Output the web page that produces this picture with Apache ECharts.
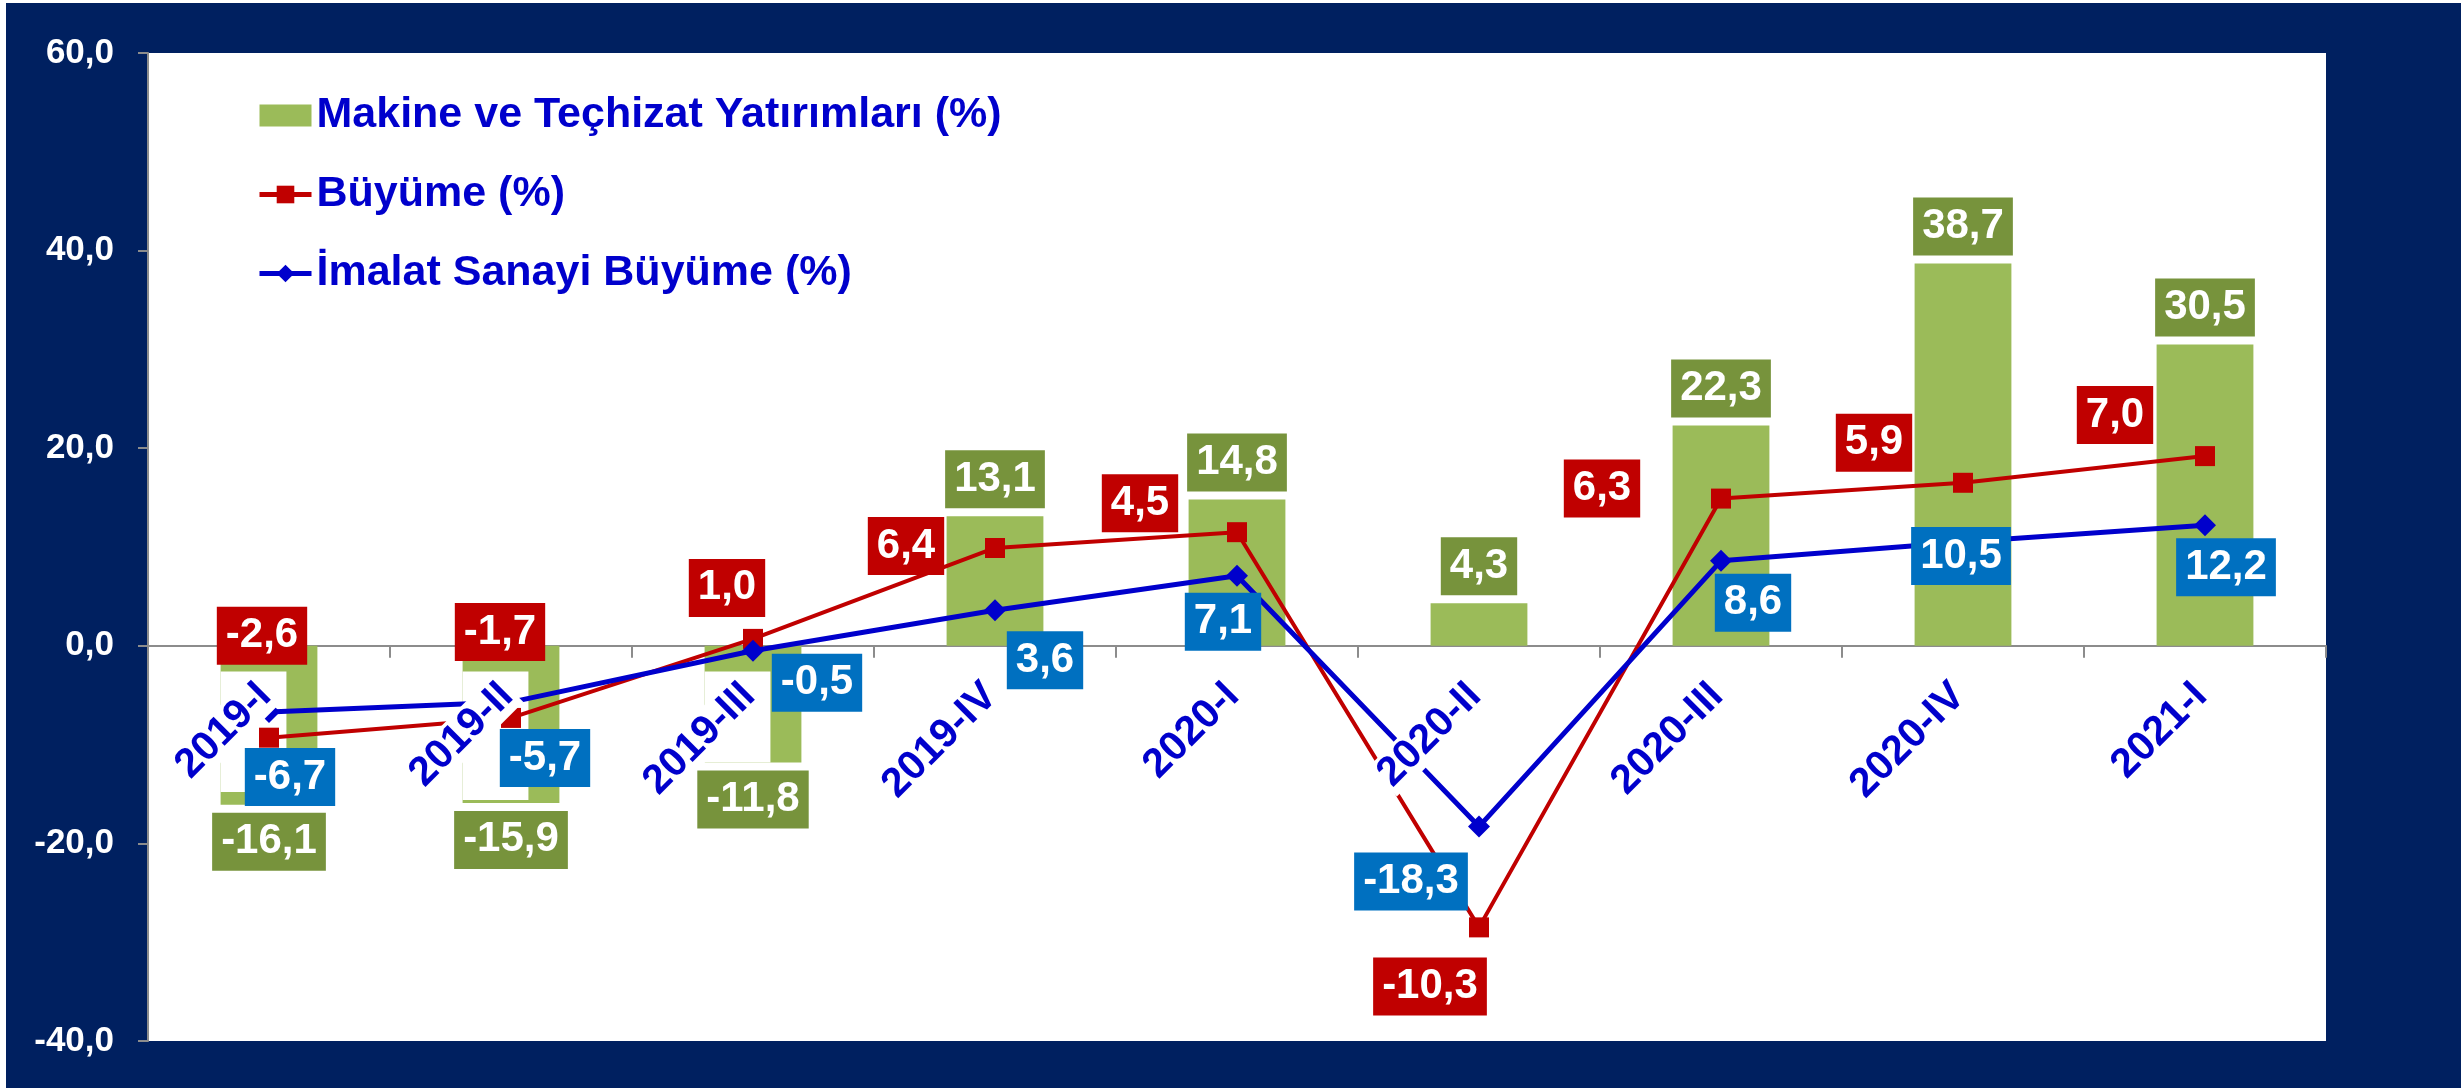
<!DOCTYPE html>
<html>
<head>
<meta charset="utf-8">
<script src="https://cdn.jsdelivr.net/npm/echarts@6/dist/echarts.min.js"></script>
<style>
  html, body { margin: 0; padding: 0; background: #ffffff; }
  #chart { position: absolute; left: 6px; top: 3px; width: 2455px; height: 1085px; }
</style>
</head>
<body>
<div id="chart"></div>
<script>
// quarters
const categories = ["2019-I", "2019-II", "2019-III", "2019-IV", "2020-I", "2020-II", "2020-III", "2020-IV", "2021-I"];
// Makine ve Techizat Yatirimlari (%)
const makineValues = [-16.1, -15.9, -11.8, 13.1, 14.8, 4.3, 22.3, 38.7, 30.5];
// Buyume: plotted points and the numbers written on the labels (they differ in the original)
const buyumeLine = [-9.3, -7.3, 0.7, 9.9, 11.5, -28.5, 14.9, 16.5, 19.2];
const buyumeLabels = [-2.6, -1.7, 1.0, 6.4, 4.5, -10.3, 6.3, 5.9, 7.0];
// Imalat Sanayi Buyume (%)
const imalatValues = [-6.7, -5.7, -0.5, 3.6, 7.1, -18.3, 8.6, 10.5, 12.2];
// white patches over the negative bars: [category, from, to]
const maskData = [[0, -2.6, -14.8], [1, -2.6, -15.6], [2, -2.6, -11.8]];
const yMin = -40, yMax = 60, yStep = 20;

const seriesNames = ["Makine ve Teçhizat Yatırımları (%)", "Büyüme (%)", "İmalat Sanayi Büyüme (%)"];

// label placement (px, relative to the point)
const buyumeOffsets = [[-7, -102], [-11, -86], [-26, -51], [-89, -2], [-97, -29], [-49, 59], [-119, -10], [-89, -40], [-90, -41]];
const imalatOffsets = [[21, 65], [34, 56], [64, 32], [50, 50], [-14, 46], [-68, 55], [32, 42], [-2, 14], [21, 42]];

const FONT = "'Liberation Sans', Arial, sans-serif";
const fmt = (v) => v.toFixed(1).replace(".", ",");

const boxLabel = {
  show: true,
  color: "#ffffff",
  fontFamily: FONT,
  fontWeight: "bold",
  fontSize: 42,
  lineHeight: 44,
  padding: [7, 9],
};

const chart = echarts.init(document.getElementById("chart"));

const option = {
  animation: false,
  backgroundColor: "#002060",
  textStyle: { fontFamily: FONT },
  grid: {
    left: 142,
    right: 135,
    top: 50,
    bottom: 47,
    containLabel: false,
    outerBoundsMode: "none",
    show: true,
    backgroundColor: "#ffffff",
    borderWidth: 0,
  },
  legend: {
    orient: "vertical",
    left: 246,
    top: 86,
    itemWidth: 52,
    itemHeight: 22,
    itemGap: 36,
    lineStyle: { width: 5 },
    textStyle: {
      color: "#0000CC",
      fontFamily: FONT,
      fontWeight: "bold",
      fontSize: 43,
      lineHeight: 42,
    },
    data: [
      { name: seriesNames[0], icon: "rect" },
      { name: seriesNames[1] },
      { name: seriesNames[2] },
    ],
  },
  xAxis: {
    type: "category",
    data: categories,
    axisLine: { onZero: true, lineStyle: { color: "#8c8c8c", width: 2 } },
    axisTick: { show: true, length: 12, lineStyle: { color: "#8c8c8c", width: 2 } },
    axisLabel: { show: false },
  },
  yAxis: {
    type: "value",
    min: yMin,
    max: yMax,
    interval: yStep,
    axisLine: { show: true, lineStyle: { color: "#8c8c8c", width: 2 } },
    axisTick: { show: true, length: 10, lineStyle: { color: "#8c8c8c", width: 2 } },
    splitLine: { show: false },
    axisLabel: {
      margin: 34,
      color: "#ffffff",
      fontFamily: FONT,
      fontWeight: "bold",
      fontSize: 35,
      formatter: (v) => fmt(v),
    },
  },
  series: [
    {
      name: seriesNames[0],
      type: "bar",
      z: 2,
      barWidth: "40%",
      itemStyle: { color: "#9BBB59" },
      data: makineValues.map((v) => ({
        value: v,
        label: { position: v < 0 ? "bottom" : "top" },
      })),
      label: Object.assign({}, boxLabel, {
        backgroundColor: "#77933C",
        distance: 8,
        formatter: (p) => fmt(p.value),
      }),
    },
    {
      name: "mask",
      type: "custom",
      z: 3,
      silent: true,
      clip: false,
      dimensions: ["cat", "from", "to"],
      encode: { x: 0, y: [1, 2] },
      data: maskData,
      renderItem: (params, api) => {
        const cat = api.value(0);
        const top = api.coord([cat, api.value(1)]);
        const bot = api.coord([cat, api.value(2)]);
        const bw = api.size([1, 0])[0] * 0.4;
        return {
          type: "rect",
          shape: { x: top[0] - bw / 2, y: top[1], width: bw * 0.68, height: bot[1] - top[1] },
          style: { fill: "#ffffff" },
        };
      },
    },
    {
      name: seriesNames[1],
      type: "line",
      z: 4,
      symbol: "rect",
      symbolSize: 20,
      lineStyle: { color: "#C00000", width: 4 },
      itemStyle: { color: "#C00000" },
      label: Object.assign({}, boxLabel, { backgroundColor: "#C00000", position: "inside" }),
      data: buyumeLine.map((v, i) => ({
        value: v,
        label: { offset: buyumeOffsets[i], formatter: fmt(buyumeLabels[i]) },
      })),
    },
    {
      name: seriesNames[2],
      type: "line",
      z: 5,
      symbol: "diamond",
      symbolSize: 22,
      lineStyle: { color: "#0000CC", width: 5 },
      itemStyle: { color: "#0000CC" },
      label: Object.assign({}, boxLabel, { backgroundColor: "#0070C0", position: "inside" }),
      data: imalatValues.map((v, i) => ({
        value: v,
        label: { offset: imalatOffsets[i], formatter: fmt(v) },
      })),
    },
    {
      // category names written at the zero line (offset is in the rotated frame)
      name: "quarters",
      type: "scatter",
      z: 10,
      silent: true,
      symbolSize: 0,
      itemStyle: { opacity: 1 },
      data: categories.map(() => 0),
      label: {
        show: true,
        position: "inside",
        offset: [-31, 28],
        rotate: 45,
        align: "right",
        verticalAlign: "middle",
        color: "#0000CC",
        opacity: 1,
        fontFamily: FONT,
        fontWeight: "bold",
        fontSize: 41,
        backgroundColor: "#ffffff",
        padding: [0, 3],
        formatter: (p) => categories[p.dataIndex],
      },
    },
  ],
};

chart.setOption(option);
</script>
</body>
</html>
